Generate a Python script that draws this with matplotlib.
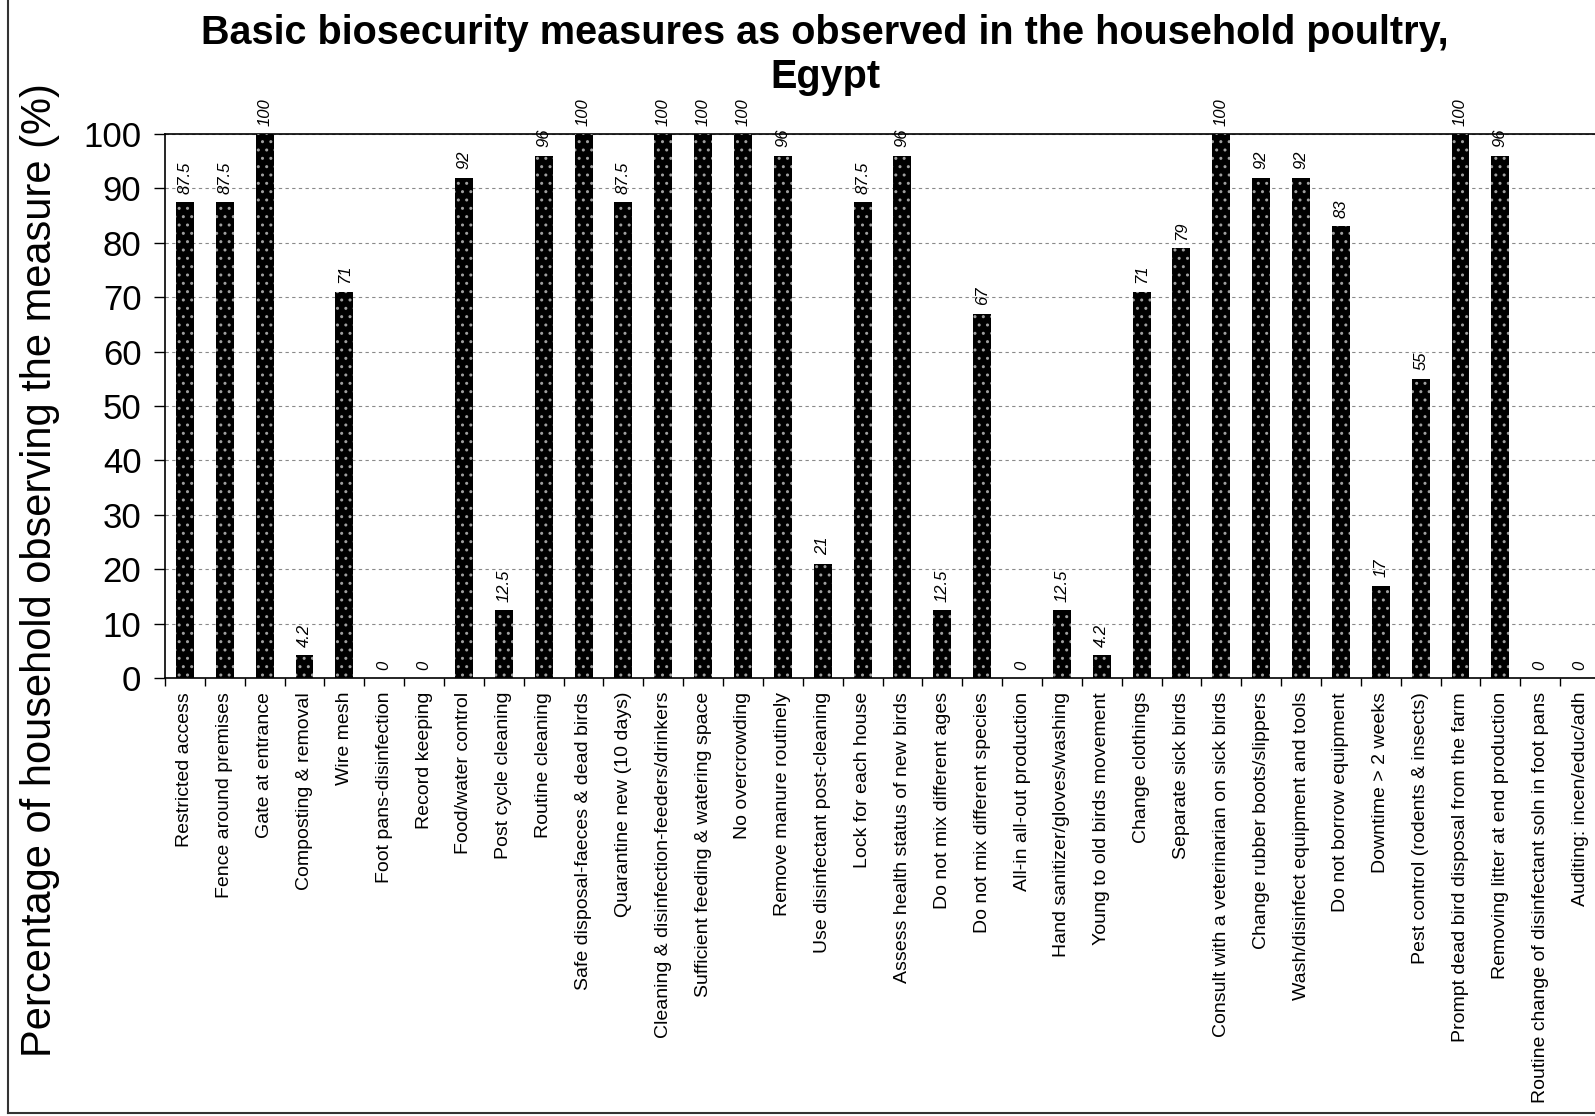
import matplotlib.pyplot as plt
import numpy as np

plt.rcParams['font.family'] = ['Liberation Sans', 'DejaVu Sans']

measures = [
    'Restricted access', 'Fence around premises', 'Gate at entrance',
    'Composting & removal', 'Wire mesh', 'Foot pans-disinfection',
    'Record keeping', 'Food/water control', 'Post cycle cleaning',
    'Routine cleaning', 'Safe disposal-faeces & dead birds',
    'Quarantine new (10 days)', 'Cleaning & disinfection-feeders/drinkers',
    'Sufficient feeding & watering space', 'No overcrowding',
    'Remove manure routinely', 'Use disinfectant post-cleaning',
    'Lock for each house', 'Assess health status of new birds',
    'Do not mix different ages', 'Do not mix different species',
    'All-in all-out production', 'Hand sanitizer/gloves/washing',
    'Young to old birds movement', 'Change clothings', 'Separate sick birds',
    'Consult with a veterinarian on sick birds', 'Change rubber boots/slippers',
    'Wash/disinfect equipment and tools', 'Do not borrow equipment',
    'Downtime > 2 weeks', 'Pest control (rodents & insects)',
    'Prompt dead bird disposal from the farm', 'Removing litter at end production',
    'Routine change of disinfectant soln in foot pans', 'Auditing: incen/educ/adh',
]
percent = [
    87.5, 87.5, 100, 4.2, 71, 0, 0, 92, 12.5, 96, 100, 87.5, 100, 100, 100,
    96, 21, 87.5, 96, 12.5, 67, 0, 12.5, 4.2, 71, 79, 100, 92, 92, 83, 17,
    55, 100, 96, 0, 0,
]

W, H = 1595, 1116
fig = plt.figure(figsize=(W / 100, H / 100), dpi=100)
ax = fig.add_axes([165 / W, 1 - 678 / H, 1435 / W, 544 / H])

x = np.arange(len(measures))
# black bars with a sparse dotted fill
ax.bar(x, percent, width=0.45, color='black', edgecolor='#a0a0a0',
       linewidth=0, hatch='..', zorder=3)

for xi, v in zip(x, percent):
    ax.annotate(f'{v:g}', (xi, v), xytext=(0, 6), textcoords='offset points',
                ha='center', va='bottom', rotation=90, fontsize=12,
                style='italic', annotation_clip=False)

ax.set_xlim(-0.5, len(measures) - 0.5)
ax.set_ylim(0, 100)
ax.set_yticks(np.arange(0, 101, 10))
ax.yaxis.grid(True, linestyle=(0, (3, 3)), color='#8a8a8a', linewidth=0.8)
ax.set_axisbelow(True)

ax.set_xticks(x)
ax.set_xticklabels(measures, rotation=90, fontsize=14, va='top')
ax.set_xticks(np.arange(-0.5, len(measures)), minor=True)
ax.tick_params(axis='x', which='major', length=0, pad=10)
ax.tick_params(axis='x', which='minor', length=6, width=1, direction='out')
ax.tick_params(axis='y', labelsize=25, length=8, width=1, pad=9)

for s in ax.spines.values():
    s.set_linewidth(1.2)
    s.set_color('black')

fig.text(825 / W, 1 - 44 / H,
         'Basic biosecurity measures as observed in the household poultry,',
         ha='center', va='baseline', fontsize=28.5, fontweight='bold')
fig.text(825 / W, 1 - 88 / H, 'Egypt',
         ha='center', va='baseline', fontsize=28.5, fontweight='bold')

fig.text(40 / W, 1 - 570 / H, 'Percentage of household observing the measure (%)',
         rotation=90, ha='center', va='center', fontsize=30)

# outer frame
fig.add_artist(plt.Line2D([7.5 / W, 7.5 / W], [3.5 / H, 1], color='#333333', lw=1.5))
fig.add_artist(plt.Line2D([7.5 / W, 1], [3.5 / H, 3.5 / H], color='#333333', lw=1.5))

fig.savefig('out.png', dpi=100)
